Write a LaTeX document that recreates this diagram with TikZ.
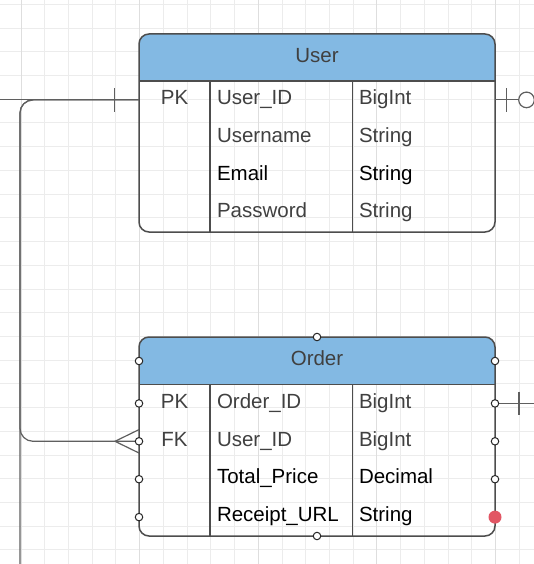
\documentclass[tikz,border=0pt]{standalone}
\usepackage{fontspec}
\setmainfont{Liberation Sans}
\usetikzlibrary{positioning}
\definecolor{headblue}{RGB}{131,185,227}
\definecolor{edgegray}{RGB}{77,77,77}
\definecolor{linegray}{RGB}{95,95,95}
\definecolor{textgray}{RGB}{64,64,64}
\definecolor{gridminor}{RGB}{236,236,236}
\definecolor{gridmajor}{RGB}{222,222,222}
\definecolor{hotred}{RGB}{226,86,100}
\tikzset{x=1pt, y=-1pt, inner sep=0pt, outer sep=0pt, font=\fontsize{20.5}{24}\selectfont}
\tikzset{entity/.style={draw=edgegray, line width=1.5pt, rounded corners=10pt, minimum width=356pt,
    path picture={\fill[headblue, sharp corners] (path picture bounding box.north west) rectangle ([yshift=-47pt]path picture bounding box.north east);}}}
\tikzstyle{sep} = [draw=edgegray, line width=1.5pt]
\tikzstyle{cell} = [text height=15pt, text depth=5.5pt, anchor=west]
\tikzstyle{keycell} = [text height=15pt, text depth=5.5pt, anchor=center, text=textgray]
\tikzstyle{title} = [text height=15pt, text depth=5.5pt, text=textgray]
\tikzstyle{rel} = [draw=linegray, line width=1.2pt]
\tikzstyle{port} = [draw=black!85, fill=white, circle, minimum size=7.5pt, line width=1pt]
\tikzstyle{hotport} = [fill=hotred, circle, minimum size=13pt]

\begin{document}
\begin{tikzpicture}
    \path[use as bounding box, fill=white] (0,0) rectangle (534,564);
    \clip (0,0) rectangle (534,564);
    % grid
    \foreach \k in {-1,...,21} \draw[gridminor, line width=0.8pt] ({21+23.72*\k},0) -- ++(0,564);
    \foreach \k in {0,...,23} \draw[gridminor, line width=0.8pt] (0,{4.3+23.72*\k}) -- ++(534,0);
    \foreach \k in {0,...,4} \draw[gridmajor, line width=0.8pt] ({21+118.6*\k},0) -- ++(0,564);

    % User
    \node [entity, minimum height=198pt] (user) at (317,133) {};
    \draw [sep] ([yshift=-47pt]user.north west) -- ([yshift=-47pt]user.north east);
    \draw [sep] ([xshift=71pt, yshift=-47pt]user.north west) -- ([xshift=71pt]user.south west);
    \draw [sep] ([xshift=213.3pt, yshift=-47pt]user.north west) -- ([xshift=213.3pt]user.south west);
    \node [title] (usertitle) at (317,57.5) {User};
    \node [keycell] (userpk) at (174.5,99.9) {PK};
    \node [cell, text=textgray] (userid) at (217,99.9) {User\_ID};
    \node [cell, text=textgray] (useridtype) at (359,99.9) {BigInt};
    \node [cell, text=textgray] (username) at (217,137.6) {Username};
    \node [cell, text=textgray] (usernametype) at (359,137.6) {String};
    \node [cell] (useremail) at (217,175.4) {Email};
    \node [cell] (useremailtype) at (359,175.4) {String};
    \node [cell, text=textgray] (userpass) at (217,213.1) {Password};
    \node [cell, text=textgray] (userpasstype) at (359,213.1) {String};

    % Order
    \node [entity, minimum height=199pt] (order) at (317,436.5) {};
    \draw [sep] ([yshift=-47.5pt]order.north west) -- ([yshift=-47.5pt]order.north east);
    \draw [sep] ([xshift=71pt, yshift=-47.5pt]order.north west) -- ([xshift=71pt]order.south west);
    \draw [sep] ([xshift=213.3pt, yshift=-47.5pt]order.north west) -- ([xshift=213.3pt]order.south west);
    \node [title] (ordtitle) at (317,361) {Order};
    \node [keycell] (ordpk) at (174.5,403.4) {PK};
    \node [cell, text=textgray] (ordid) at (217,403.4) {Order\_ID};
    \node [cell, text=textgray] (ordidtype) at (359,403.4) {BigInt};
    \node [keycell] (ordfk) at (174.5,441.3) {FK};
    \node [cell, text=textgray] (orduser) at (217,441.3) {User\_ID};
    \node [cell, text=textgray] (ordusertype) at (359,441.3) {BigInt};
    \node [cell] (ordprice) at (217,479.2) {Total\_Price};
    \node [cell] (ordpricetype) at (359,479.2) {Decimal};
    \node [cell] (ordurl) at (217,517.1) {Receipt\_URL};
    \node [cell] (ordurltype) at (359,517.1) {String};

    % relations
    \coordinate (leftend) at (0,99.9);
    \coordinate (userpkw) at (user.west |- userpk);
    \coordinate (userpke) at (user.east |- userpk);
    \coordinate (railend) at (20,570);
    \coordinate (railbend) at (20,441.3);
    \coordinate (ordfkw) at (order.west |- ordfk);
    \coordinate (ordpke) at (order.east |- ordpk);
    \coordinate (rightend) at (540,403.4);
    \node [draw=linegray, line width=1.2pt, circle, fill=white, minimum size=15.6pt] (useropt) at (526.5,99.9) {};

    \draw [rel] (leftend) -- (userpkw);
    \draw [rel] ([xshift=-24.7pt]userpkw) +(0,-11.7) -- +(0,11.7);
    \draw [rel, rounded corners=13pt] (userpkw) -| (railend);
    \draw [rel, rounded corners=13pt] (userpkw) -| (railbend) -- (ordfkw);
    \draw [rel] ([yshift=11.7pt]ordfkw) -- ([xshift=-24pt]ordfkw) -- ([yshift=-11.7pt]ordfkw);
    \draw [rel] (userpke) -- (useropt);
    \draw [rel] ([xshift=11.7pt]userpke) +(0,-11.7) -- +(0,11.7);
    \draw [rel] (ordpke) -- (rightend);
    \draw [rel] ([xshift=24pt]ordpke) +(0,-11.7) -- +(0,11.7);

    % ports
    \node [port] (porttop) at (order.north) {};
    \node [port] (portbottom) at (order.south) {};
    \node [port] (portlt) at (order.west |- ordtitle) {};
    \node [port] (portl1) at (order.west |- ordpk) {};
    \node [port] (portl2) at (order.west |- ordfk) {};
    \node [port] (portl3) at (order.west |- ordprice) {};
    \node [port] (portl4) at (order.west |- ordurl) {};
    \node [port] (portrt) at (order.east |- ordtitle) {};
    \node [port] (portr1) at (order.east |- ordpk) {};
    \node [port] (portr2) at (order.east |- ordfk) {};
    \node [port] (portr3) at (order.east |- ordprice) {};
    \node [hotport] (portr4) at (order.east |- ordurl) {};
\end{tikzpicture}
\end{document}
